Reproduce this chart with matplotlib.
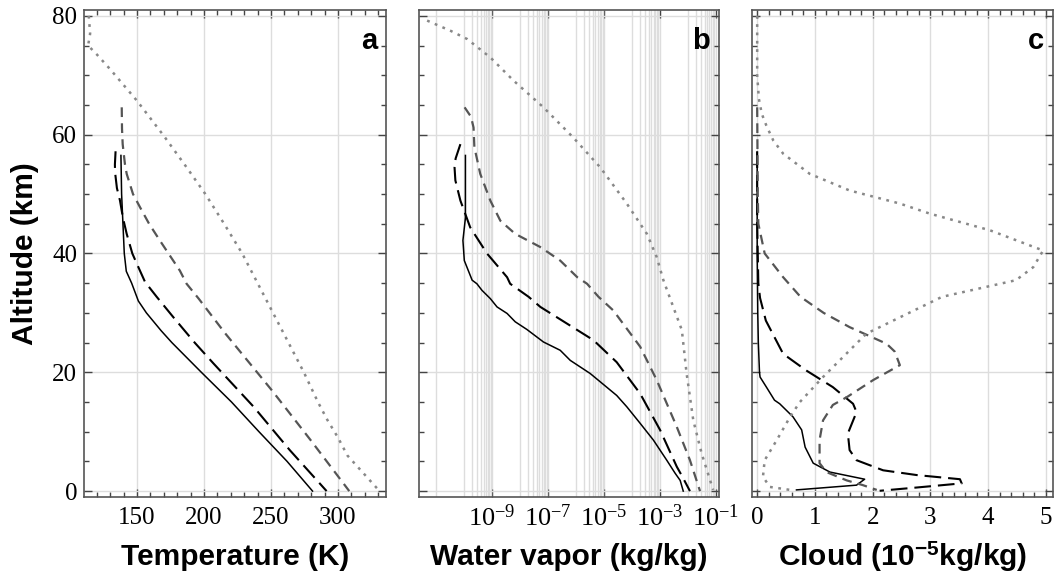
import numpy as np
import matplotlib
matplotlib.use("Agg")
import matplotlib.pyplot as plt
from matplotlib.ticker import MultipleLocator, FixedLocator, NullFormatter


# --- panel a: temperature (K) vs altitude (km) ---
alt_t_solid = [56.5, 50, 45, 40, 37, 35, 32, 30, 27, 25, 20, 15, 10, 5, 0]
t_solid = [138, 138.5, 139.5, 140.5, 142, 146, 151, 157, 168, 176, 198, 220.5, 241, 262, 281]

alt_t_ldash = [57.2, 55, 53.7, 51, 48.9, 46, 43.3, 40, 38.3, 35.2, 32.7, 29.3, 25, 21.5, 14.2, 6.9, 0]
t_ldash = [134, 133.5, 133.6, 135, 137.3, 139.5, 142.3, 146.5, 149.8, 156, 164.7, 177, 193, 207, 237, 264, 291.5]

alt_t_gdash = [64.6, 61, 58.4, 55, 53.4, 50, 47.8, 45, 42.2, 37.1, 34.9, 32.4, 26.5, 17, 8.6, 0]
t_gdash = [138.6, 138.8, 139.3, 141, 142.3, 147, 152.2, 159, 167, 182, 187, 196, 216, 250.5, 279.5, 308.4]

alt_t_dot = [80, 77, 75, 73.5, 71, 65.7, 59.8, 54.5, 50, 45, 40, 35, 30, 25, 20, 15, 12, 9, 6, 4, 0]
t_dot = [114, 115, 113.5, 120, 130, 150, 170, 187, 201, 215, 228.5, 240, 251.5, 263, 274.5, 285, 292, 300, 307, 315, 331]

# --- panel b: water vapor, log10(kg/kg) ---
alt_q_solid = [56.5, 50, 46, 42.2, 38.8, 35.5, 34.9, 33.8, 32.4, 31.0, 29.9, 28.5, 27.2, 25.1,
               23.7, 22.0, 19.8, 18.4, 16.1, 14.2, 11.4, 8.6, 5.2, 3.0, 1.8, 0]
q_solid = [-9.95, -9.95, -9.95, -10.04, -9.99, -9.71, -9.54, -9.36, -9.06, -8.82, -8.46, -8.17,
           -7.75, -7.16, -6.56, -6.20, -5.49, -5.13, -4.54, -4.18, -3.70, -3.23, -2.75, -2.45,
           -2.27, -2.16]

alt_q_ldash = [58.4, 56, 54.5, 52.3, 48.9, 44.4, 40, 36, 34.9, 32.7, 31, 28.2, 25.4, 21.7, 16.4,
               10.3, 4.1, 2.5, 0]
q_ldash = [-10.13, -10.3, -10.34, -10.31, -10.13, -9.78, -9.18, -8.46, -8.35, -7.69, -7.27, -6.32,
           -5.37, -4.54, -3.70, -2.99, -2.39, -2.2, -1.92]

alt_q_gdash = [64.6, 63, 61.2, 57.9, 53.4, 48.9, 45.5, 43.3, 41.1, 38.8, 36, 34.9, 32.7, 30.4,
               24.3, 18.7, 10.8, 5.2, 0]
q_gdash = [-9.98, -9.75, -9.66, -9.63, -9.42, -9.06, -8.70, -8.17, -7.28, -6.56, -5.95, -5.6,
           -5.19, -4.66, -3.70, -3.11, -2.39, -1.92, -1.56]

alt_q_dot = [79.2, 77.5, 76.1, 73, 69.1, 64.6, 59.5, 54.5, 48.4, 43.3, 39.4, 35.5, 33.2, 27.1,
             19.8, 11.9, 6.3, 0.2]
q_dot = [-11.32, -10.49, -9.89, -9.06, -8.23, -7.16, -6.09, -5.13, -4.18, -3.46, -3.11, -2.87,
         -2.69, -2.21, -2.04, -1.80, -1.50, -1.09]

# --- panel c: cloud (1e-5 kg/kg) ---
alt_c_solid = [57, 40, 30, 25, 20, 19.2, 17.5, 15.3, 14.7, 12.5, 10.3, 7.4, 4.7, 3.2, 2.0, 1.0, 0.2]
c_solid = [0, 0, 0.01, 0.02, 0.04, 0.05, 0.16, 0.3, 0.39, 0.62, 0.77, 0.83, 0.97, 1.26, 1.86, 1.72, 0.68]

alt_c_ldash = [57.2, 45, 35, 32.5, 28.7, 23.1, 20.3, 17.5, 14.7, 13.3, 9.7, 6.9, 5.2, 3.5, 2.7,
               2.0, 1.3, 0.6, 0.05]
c_ldash = [0, 0, 0.02, 0.05, 0.15, 0.45, 0.85, 1.31, 1.66, 1.72, 1.57, 1.60, 1.72, 2.18, 2.76,
           3.51, 3.54, 2.76, 2.12]

alt_c_gdash = [64.6, 50, 45, 40, 36, 32.7, 30, 27.6, 24.8, 23.5, 21.2, 18.7, 15.8, 14.5, 11.9,
               8.6, 4.7, 3.2, 1.8, 1.0, 0.2]
c_gdash = [0, 0.01, 0.02, 0.13, 0.45, 0.75, 1.15, 1.60, 2.24, 2.38, 2.47, 2.01, 1.55, 1.31, 1.14,
           1.08, 1.08, 1.20, 1.55, 1.83, 2.07]

alt_c_dot = [80, 70, 66, 63.5, 61.5, 59, 56.8, 53.4, 50.6, 48.4, 46.7, 43.9, 40.5, 37.7, 35.5,
             32.7, 26.5, 19.2, 15, 12.5, 8.6, 5.2, 2.4, 0.7, 0.2]
c_dot = [0, 0, 0.03, 0.08, 0.16, 0.28, 0.45, 0.91, 1.60, 2.47, 2.99, 4.03, 4.95, 4.78, 4.48,
         3.2, 1.89, 1.14, 0.74, 0.57, 0.34, 0.13, 0.10, 0.22, 0.57]

wv_major = [-9, -7, -5, -3, -1]
wv_major_labels = [r"$10^{-9}$", r"$10^{-7}$", r"$10^{-5}$", r"$10^{-3}$", r"$10^{-1}$"]


plt.rcParams["font.family"] = ["Liberation Serif"]
plt.rcParams["mathtext.fontset"] = "custom"
plt.rcParams["mathtext.rm"] = "Liberation Serif"
plt.rcParams["mathtext.it"] = "Liberation Serif:italic"
plt.rcParams["mathtext.bf"] = "Liberation Sans:bold"
plt.rcParams["lines.scale_dashes"] = False

SOLID = dict(color="black", lw=1.1, ls="-")
LDASH = dict(color="black", lw=1.5, ls=(0, (12, 5)))
GDASH = dict(color="#555555", lw=1.6, ls=(0, (7, 4.5)))
DOT = dict(color="#888888", lw=1.8, ls=(0, (2, 4)))

LABEL = dict(fontsize=21.5, fontweight="bold", family="Liberation Sans")

fig = plt.figure(figsize=(10.56, 5.82), dpi=100)
ax_a = fig.add_axes([0.0795, 0.146, 0.286, 0.837])
ax_b = fig.add_axes([0.3968, 0.146, 0.2841, 0.837])
ax_c = fig.add_axes([0.7121, 0.146, 0.285, 0.837])


def style(ax, letter):
    ax.set_ylim(-1, 81)
    ax.yaxis.set_major_locator(MultipleLocator(20))
    ax.yaxis.set_minor_locator(MultipleLocator(5))
    ax.tick_params(which="both", direction="in", top=True, right=True,
                   color="#444444", labelsize=18)
    ax.tick_params(which="major", length=6, width=1)
    ax.tick_params(which="minor", length=3.5, width=1)
    ax.tick_params(axis="x", pad=7)
    ax.tick_params(axis="y", pad=5)
    ax.grid(True, which="major", color="#dddddd", lw=1)
    ax.set_axisbelow(True)
    for s in ax.spines.values():
        s.set_color("#555555")
        s.set_linewidth(1.2)
    ax.text(0.970, 0.920, letter, transform=ax.transAxes, ha="right", va="baseline",
            fontsize=21, fontweight="bold", family="Liberation Sans")


# a
ax_a.plot(t_solid, alt_t_solid, **SOLID)
ax_a.plot(t_ldash, alt_t_ldash, **LDASH)
ax_a.plot(t_gdash, alt_t_gdash, **GDASH)
ax_a.plot(t_dot, alt_t_dot, **DOT)
ax_a.set_xlim(110.4, 335.8)
ax_a.xaxis.set_major_locator(FixedLocator([150, 200, 250, 300]))
ax_a.xaxis.set_minor_locator(MultipleLocator(10))
style(ax_a, "a")
ax_a.set_xlabel("Temperature (K)", va="center", **LABEL)
ax_a.xaxis.set_label_coords(0.5, -0.123)
ax_a.set_ylabel("Altitude (km)", va="center", **LABEL)
ax_a.yaxis.set_label_coords(-0.195, 0.5)

# b
ax_b.set_xscale("log")
ax_b.plot(10 ** np.array(q_solid), alt_q_solid, **SOLID)
ax_b.plot(10 ** np.array(q_ldash), alt_q_ldash, **LDASH)
ax_b.plot(10 ** np.array(q_gdash), alt_q_gdash, **GDASH)
ax_b.plot(10 ** np.array(q_dot), alt_q_dot, **DOT)
ax_b.set_xlim(10 ** -11.61, 10 ** -0.88)
ax_b.set_xticks([10.0 ** e for e in wv_major], labels=wv_major_labels)
grid_b = [1e-11] + [k * 10.0 ** n for n in (-10, -8, -6, -4, -2) for k in range(1, 10)]
ax_b.xaxis.set_minor_locator(FixedLocator(grid_b))
ax_b.xaxis.set_minor_formatter(NullFormatter())
style(ax_b, "b")
ax_b.tick_params(axis="x", which="major", labelsize=19, pad=5)
ax_b.tick_params(axis="x", which="minor", length=0)
ax_b.grid(True, which="minor", axis="x", color="#dddddd", lw=1)
ax_b.tick_params(axis="y", labelleft=False)
ax_b.set_xlabel("Water vapor (kg/kg)", va="center", **LABEL)
ax_b.xaxis.set_label_coords(0.5, -0.123)

# c
ax_c.plot(c_solid, alt_c_solid, **SOLID)
ax_c.plot(c_ldash, alt_c_ldash, **LDASH)
ax_c.plot(c_gdash, alt_c_gdash, **GDASH)
ax_c.plot(c_dot, alt_c_dot, **DOT)
ax_c.set_xlim(-0.09, 5.12)
ax_c.xaxis.set_major_locator(MultipleLocator(1))
ax_c.xaxis.set_minor_locator(MultipleLocator(0.2))
style(ax_c, "c")
ax_c.tick_params(axis="y", labelleft=False)
ax_c.set_xlabel(r"Cloud (10$^{\mathbf{-5}}$kg/kg)", va="center", **LABEL)
ax_c.xaxis.set_label_coords(0.5, -0.123)

fig.savefig("out.png", dpi=100)
